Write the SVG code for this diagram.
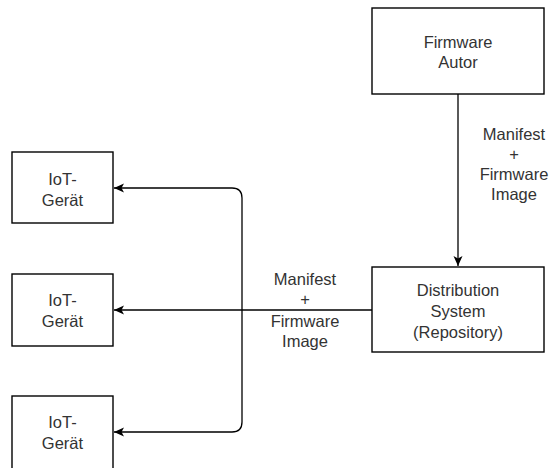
<svg xmlns="http://www.w3.org/2000/svg" width="550" height="468" viewBox="0 0 550 468">
<defs>
<style>
.box{fill:#fff;stroke:#000;stroke-width:1.4}
.lbl{font-family:"Liberation Sans",Arial,sans-serif;font-size:16.5px;fill:#333;text-anchor:middle}
.edge{fill:none;stroke:#000;stroke-width:1.3}
</style>
<marker id="arr" markerUnits="userSpaceOnUse" markerWidth="12" markerHeight="10" refX="10" refY="4.5" orient="auto" viewBox="0 0 12 9">
<path d="M0,0 L10,4.5 L0,9 L2.5,4.5 Z" fill="#000"/>
</marker>
</defs>
<g id="connectors">
<path class="edge" d="M458,94 V266" marker-end="url(#arr)"/>
<path class="edge" d="M372,310 H114" marker-end="url(#arr)"/>
<path class="edge" d="M242,310 V198 Q242,188 232,188 H114" marker-end="url(#arr)"/>
<path class="edge" d="M242,310 V422 Q242,432 232,432 H114" marker-end="url(#arr)"/>
<text class="lbl" x="514" y="140">Manifest</text>
<text class="lbl" x="514" y="160">+</text>
<text class="lbl" x="514" y="180">Firmware</text>
<text class="lbl" x="514" y="200">Image</text>
<text class="lbl" x="305" y="285">Manifest</text>
<text class="lbl" x="305" y="305">+</text>
<text class="lbl" x="305" y="327">Firmware</text>
<text class="lbl" x="305" y="347">Image</text>
</g>
<g id="firmware-autor">
<rect class="box" x="372" y="8" width="172" height="86"/>
<text class="lbl" x="458" y="48">Firmware</text>
<text class="lbl" x="458" y="68">Autor</text>
</g>
<g id="distribution-system">
<rect class="box" x="372" y="267" width="172" height="85"/>
<text class="lbl" x="458" y="296">Distribution</text>
<text class="lbl" x="458" y="317">System</text>
<text class="lbl" x="458" y="338">(Repository)</text>
</g>
<g id="iot-1">
<rect class="box" x="12" y="152" width="101" height="71"/>
<text class="lbl" x="62.5" y="185">IoT-</text>
<text class="lbl" x="62.5" y="206">Gerät</text>
</g>
<g id="iot-2">
<rect class="box" x="12" y="274" width="101" height="72"/>
<text class="lbl" x="62.5" y="306">IoT-</text>
<text class="lbl" x="62.5" y="327">Gerät</text>
</g>
<g id="iot-3">
<rect class="box" x="12" y="396" width="101" height="76"/>
<text class="lbl" x="62.5" y="428">IoT-</text>
<text class="lbl" x="62.5" y="449">Gerät</text>
</g>
</svg>
